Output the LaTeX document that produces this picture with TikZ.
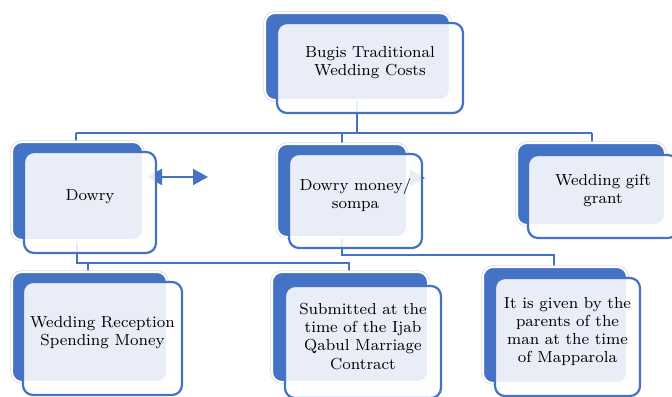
\documentclass[tikz,border=0pt]{standalone}
\usetikzlibrary{arrows.meta, fit}
\definecolor{ofblue}{HTML}{4472C4}
\tikzset{every node/.append style={font=\fontsize{8}{9.1}\selectfont}}

\begin{document}
\begin{tikzpicture}[x=0.5pt, y=-0.5pt, >={Triangle[width=8pt, length=7.5pt]},
    backbox/.style={rectangle, rounded corners=5pt, inner sep=0pt, fill=ofblue,
        draw=white, line width=1pt, preaction={draw=black!15, line width=1.7pt}},
    frontbox/.style={rectangle, rounded corners=5pt, inner sep=0pt, align=center,
        fill=white, fill opacity=0.88, text opacity=1, draw=ofblue, line width=1.1pt},
    conn/.style={draw=ofblue, line width=1.3pt}]
    \useasboundingbox (0,0) rectangle (672,396);
    % connectors first, the boxes cover them
    \coordinate (busT) at (357,133);
    \coordinate (busL) at (77,263);
    \coordinate (busM) at (342,255);
    \draw[conn] (357,90) -- (busT);
    \draw[conn] (76,133) -- (592,133);
    \draw[conn] (76,133) -- (76,150);
    \draw[conn] (342,133) -- (342,150);
    \draw[conn] (592,133) -- (592,150);
    \draw[conn] (77,230) -- (busL) -- (349,263) -- (349,280);
    \draw[conn] (88,263) -- (88,280);
    \draw[conn] (342,230) -- (busM) -- (554,255) -- (554,275);
    \draw[conn, line width=1pt, <->] (147,177) -- (208,177);
    \draw[conn, line width=1pt, ->] (410,178) -- (425,178);
    % back cards
    \node[backbox, fit={(265,13) (450,100)}] (costsB) {};
    \node[backbox, fit={(12,142) (143,240)}] (dowryB) {};
    \node[backbox, fit={(277,144) (407,237)}] (moneyB) {};
    \node[backbox, fit={(517,143) (665,225)}] (giftB) {};
    \node[backbox, fit={(12,272) (167,382)}] (receptB) {};
    \node[backbox, fit={(272,272) (428,382)}] (ijabB) {};
    \node[backbox, fit={(483,267) (627,383)}] (paroB) {};
    % front cards
    \node[frontbox, fit={(277,23) (463,113)}] (costs) {Bugis Traditional\\Wedding Costs};
    \node[frontbox, fit={(24,152) (156,253)}] (dowry) {Dowry};
    \node[frontbox, fit={(289,154) (422,248)}] (money) {Dowry money/\\sompa};
    \node[frontbox, fit={(528,155) (678,238)}] (gift) {Wedding gift\\grant};
    \node[frontbox, fit={(23,282) (182,395)}] (recept) {Wedding Reception\\Spending Money};
    \node[frontbox, fit={(285,286) (441,398)}] (ijab) {Submitted at the\\time of the Ijab\\Qabul Marriage\\Contract};
    \node[frontbox, fit={(495,278) (640,396)}] (paro) {It is given by the\\parents of the\\man at the time\\of Mapparola};
\end{tikzpicture}
\end{document}
